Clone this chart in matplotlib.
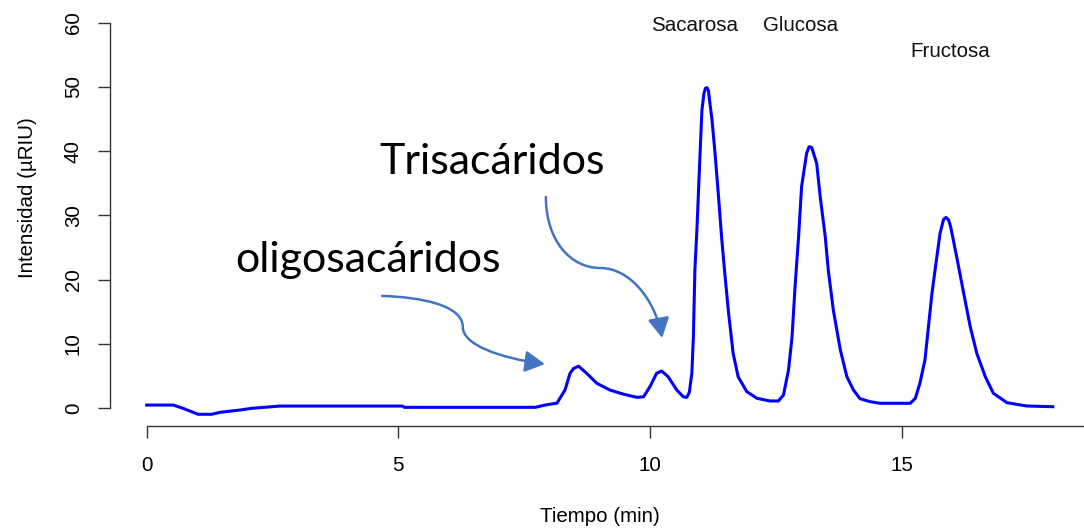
"""
plot.py
Cromatograma HPLC de azúcares (Sacarosa, Glucosa, Fructosa)
"""

import matplotlib
matplotlib.use("Agg")
import matplotlib.pyplot as plt
from matplotlib.path import Path
from matplotlib.patches import FancyArrowPatch

# ─────────────────────── datos ───────────────────────
tiempo = [0.00, 0.53, 0.72, 1.02, 1.29, 1.46, 1.85, 2.09, 2.65, 5.08,
          5.12, 7.72, 7.91, 8.15, 8.31, 8.41, 8.48, 8.58, 8.74, 8.94,
          9.20, 9.47, 9.74, 9.87, 10.00, 10.13, 10.23, 10.36, 10.53, 10.66,
          10.73, 10.78, 10.83, 10.86, 10.89, 10.93, 10.96, 10.99, 11.03, 11.07,
          11.10, 11.13, 11.16, 11.18, 11.23, 11.29, 11.36, 11.42, 11.49, 11.56,
          11.65, 11.75, 11.92, 12.12, 12.38, 12.55, 12.65, 12.75, 12.82, 12.88,
          12.95, 13.01, 13.11, 13.16, 13.21, 13.31, 13.38, 13.48, 13.54, 13.64,
          13.78, 13.91, 14.04, 14.17, 14.37, 14.57, 15.17, 15.27, 15.36, 15.46,
          15.53, 15.60, 15.68, 15.76, 15.83, 15.88, 15.93, 15.97, 16.09, 16.23,
          16.36, 16.49, 16.66, 16.82, 17.09, 17.48, 18.00]
intensidad = [0.50, 0.50, 0.00, -0.93, -0.93, -0.62, -0.27, 0.00, 0.35, 0.35,
              0.15, 0.15, 0.50, 0.80, 2.85, 5.45, 6.20, 6.55, 5.45, 3.90,
              2.85, 2.20, 1.70, 1.80, 3.40, 5.45, 5.80, 4.90, 2.85, 1.80,
              1.70, 2.50, 5.45, 11.1, 21.5, 27.7, 33.4, 39.1, 46.4, 49.0,
              49.8, 49.9, 49.4, 48.0, 44.9, 39.7, 32.9, 26.7, 20.5, 14.8,
              8.56, 4.90, 2.60, 1.56, 1.14, 1.14, 2.07, 5.96, 11.1, 18.9,
              26.7, 34.5, 39.7, 40.7, 40.6, 38.1, 32.9, 26.7, 21.5, 15.3,
              9.07, 4.90, 2.85, 1.50, 1.03, 0.78, 0.78, 1.56, 3.90, 7.50,
              12.7, 17.9, 22.6, 27.2, 29.4, 29.7, 29.3, 28.3, 23.6, 17.9,
              12.7, 8.56, 4.90, 2.33, 0.87, 0.36, 0.25]

azucares   = ["Sacarosa", "Glucosa", "Fructosa"]
azucar_t   = [10.89, 12.98, 15.96]
azucar_y   = [59.5, 59.5, 55.5]

xticks = [0, 5, 10, 15]
yticks = [0, 10, 20, 30, 40, 50, 60]

AZUL_FLECHA = "#4472C4"
# ────────────────────────────────────────────────────

plt.rcParams["font.family"] = ["Liberation Sans", "DejaVu Sans"]

fig = plt.figure(figsize=(10.84, 5.28), dpi=100)
ax = fig.add_axes([110 / 1084, 102 / 528, 974 / 1084, 426 / 528])

ax.plot(tiempo, intensidad, color="#0000FF", lw=2.2, solid_joinstyle="round")

ax.set_xlim(-0.729, 18.62)
ax.set_ylim(-2.754, 63.53)

# ejes estilo R (sin caja)
for s in ["top", "right"]:
    ax.spines[s].set_visible(False)
ax.spines["left"].set_bounds(0, 60)
ax.spines["bottom"].set_bounds(0, 18.62)
for s in ["left", "bottom"]:
    ax.spines[s].set_color("#333333")
    ax.spines[s].set_linewidth(1.0)

ax.set_xticks(xticks)
ax.set_yticks(yticks)
ax.tick_params(axis="both", length=8.6, width=1.0, color="#333333",
               labelsize=14.8, labelcolor="black")
ax.tick_params(axis="x", pad=13)
ax.tick_params(axis="y", pad=11)
plt.setp(ax.get_yticklabels(), rotation=90, va="center")

ax.set_xlabel("Tiempo (min)", fontsize=14.8)
ax.xaxis.set_label_coords(0.503, -0.19)
ax.set_ylabel("Intensidad (µRIU)", fontsize=14.8)
ax.yaxis.set_label_coords(-0.075, 0.536)

# nombres de los picos
for nombre, t, y in zip(azucares, azucar_t, azucar_y):
    ax.text(t, y, nombre, ha="center", va="center", fontsize=14.8, color="#111111")

# anotaciones grandes con flechas
ax.text(4.62, 36.41, "Trisacáridos", fontsize=31, family="Lato",
        ha="left", va="baseline", color="black")
ax.text(1.76, 21.25, "oligosacáridos", fontsize=31, family="Lato",
        ha="left", va="baseline", color="black")

flecha_tri = Path(
    [(7.93, 32.88), (7.93, 26.19), (8.41, 21.83), (9.01, 21.83),
     (9.60, 21.83), (10.10, 16.85), (10.24, 10.94)],
    [Path.MOVETO, Path.CURVE4, Path.CURVE4, Path.CURVE4,
     Path.CURVE4, Path.CURVE4, Path.CURVE4])
flecha_oli = Path(
    [(4.675, 17.48), (5.43, 17.32), (6.28, 16.07), (6.28, 12.65),
     (6.28, 9.85), (7.02, 7.83), (7.91, 6.88)],
    [Path.MOVETO, Path.CURVE4, Path.CURVE4, Path.CURVE4,
     Path.CURVE4, Path.CURVE4, Path.CURVE4])

for p in [flecha_tri, flecha_oli]:
    arr = FancyArrowPatch(path=p, arrowstyle="-|>,head_length=12,head_width=6.5",
                          color=AZUL_FLECHA, lw=1.8, mutation_scale=1,
                          clip_on=False)
    ax.add_patch(arr)

fig.savefig("out.png", dpi=100)
